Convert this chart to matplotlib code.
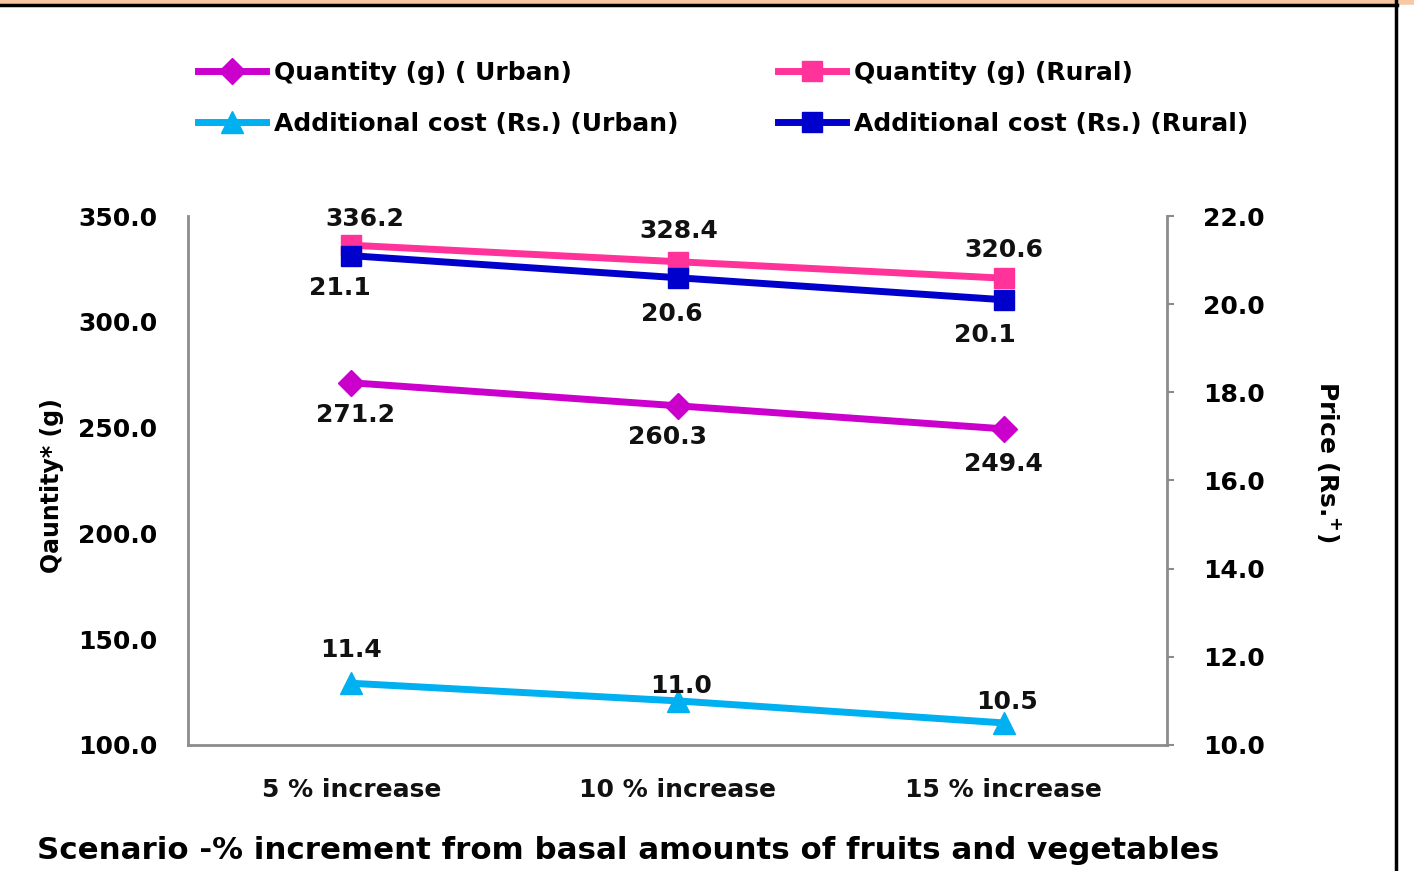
import matplotlib
matplotlib.use("Agg")
import matplotlib.pyplot as plt
from matplotlib.lines import Line2D
import numpy as np

categories = ["5 % increase", "10 % increase", "15 % increase"]
qty_urban = [271.2, 260.3, 249.4]
qty_rural = [336.2, 328.4, 320.6]
cost_urban = [11.4, 11.0, 10.5]
cost_rural = [21.1, 20.6, 20.1]

left_ticks = [100, 150, 200, 250, 300, 350]
right_ticks = [10, 12, 14, 16, 18, 20, 22]

FONT = "DejaVu Sans"
PX = 0.72  # points per pixel at dpi 100

fig = plt.figure(figsize=(14.14, 8.71), dpi=100)
ax = fig.add_axes([0.133, 0.1447, 0.6923, 0.6073])
ax2 = ax.twinx()

x = np.arange(len(categories)) + 0.5

c_qu, c_qr, c_cu, c_cr = "#CC00CC", "#FF3399", "#00B0F0", "#0000CC"
lw = 5

l1, = ax.plot(x, qty_urban, color=c_qu, lw=lw, marker="D", ms=13, label="Quantity (g) ( Urban)")
l2, = ax.plot(x, qty_rural, color=c_qr, lw=lw, marker="s", ms=15, label="Quantity (g) (Rural)")
l3, = ax2.plot(x, cost_urban, color=c_cu, lw=lw, marker="^", ms=16, label="Additional cost (Rs.) (Urban)")
l4, = ax2.plot(x, cost_rural, color=c_cr, lw=lw, marker="s", ms=15, label="Additional cost (Rs.) (Rural)")

ax.set_xlim(0, 3)
ax.set_ylim(100, 350)
ax2.set_ylim(10, 22)
ax.set_xticks(x)
ax.set_xticklabels(categories, fontfamily=FONT, fontweight="bold", fontsize=18, color="#111111")
ax.set_yticks(left_ticks)
ax.set_yticklabels([f"{v:.1f}" for v in left_ticks], fontfamily=FONT, fontweight="bold", fontsize=18)
ax2.set_yticks(right_ticks)
ax2.set_yticklabels([f"{v:.1f}" for v in right_ticks], fontfamily=FONT, fontweight="bold", fontsize=18)

ax.tick_params(axis="x", length=0, pad=24)
ax.tick_params(axis="y", length=0, pad=22)
ax2.tick_params(axis="y", length=5, width=1.5, color="#8c8c8c", pad=21)

for a in (ax, ax2):
    a.spines["top"].set_visible(False)
    for s in ("left", "right", "bottom"):
        a.spines[s].set_color("#8c8c8c")
        a.spines[s].set_linewidth(2)
ax.spines["right"].set_visible(False)
ax2.spines["left"].set_visible(False)
ax2.spines["bottom"].set_visible(False)

ax.set_ylabel("Qauntity* (g)", fontfamily=FONT, fontweight="bold", fontsize=17)
ax.yaxis.set_label_coords(-0.127, 0.49)
ax2.set_ylabel("Price (Rs.$^{\\mathbf{+}}$)", fontfamily=FONT, fontweight="bold", fontsize=18,
               rotation=270, va="center")
ax2.yaxis.set_label_coords(1.166, 0.535)

fig.text(37 / 1414, 1 - 850 / 871, "Scenario -% increment from basal amounts of fruits and vegetables",
         fontfamily=FONT, fontweight="bold", fontsize=22.2, ha="left", va="center")

lab_kw = dict(fontfamily=FONT, fontweight="bold", fontsize=18, ha="center", va="center", color="#111111")
off_qr = [(14, 26), (1, 31), (0, 28)]
off_qu = [(4, -32), (-10, -31), (0, -35)]
off_cr = [(-11, -32), (-6, -36), (-19, -35)]
off_cu = [(0, 33), (4, 15), (3, 21)]
for a, vals, offs in ((ax, qty_rural, off_qr), (ax, qty_urban, off_qu),
                      (ax2, cost_rural, off_cr), (ax2, cost_urban, off_cu)):
    for xi, v, (dx, dy) in zip(x, vals, offs):
        a.annotate(f"{v:.1f}", (xi, v), xytext=(dx * PX, dy * PX), textcoords="offset points", **lab_kw)

leg = fig.legend(handles=[l1, l3, l2, l4], ncol=2, loc="upper left",
                 bbox_to_anchor=(198 / 1414, 1 - 61 / 871),
                 frameon=False, prop=dict(family=FONT, weight="bold", size=18),
                 handlelength=2.7, handletextpad=0.32, columnspacing=4.0, labelspacing=1.09,
                 borderaxespad=0, borderpad=0)

# frame lines
fig.add_artist(Line2D([0, 1], [0.998, 0.998], transform=fig.transFigure, color="#F8C8A4", lw=4))
fig.add_artist(Line2D([0, 0.988], [0.9945, 0.9945], transform=fig.transFigure, color="black", lw=2.5))
fig.add_artist(Line2D([0.9875, 0.9875], [0, 1], transform=fig.transFigure, color="black", lw=2.5))

fig.savefig("out.png", dpi=100)
